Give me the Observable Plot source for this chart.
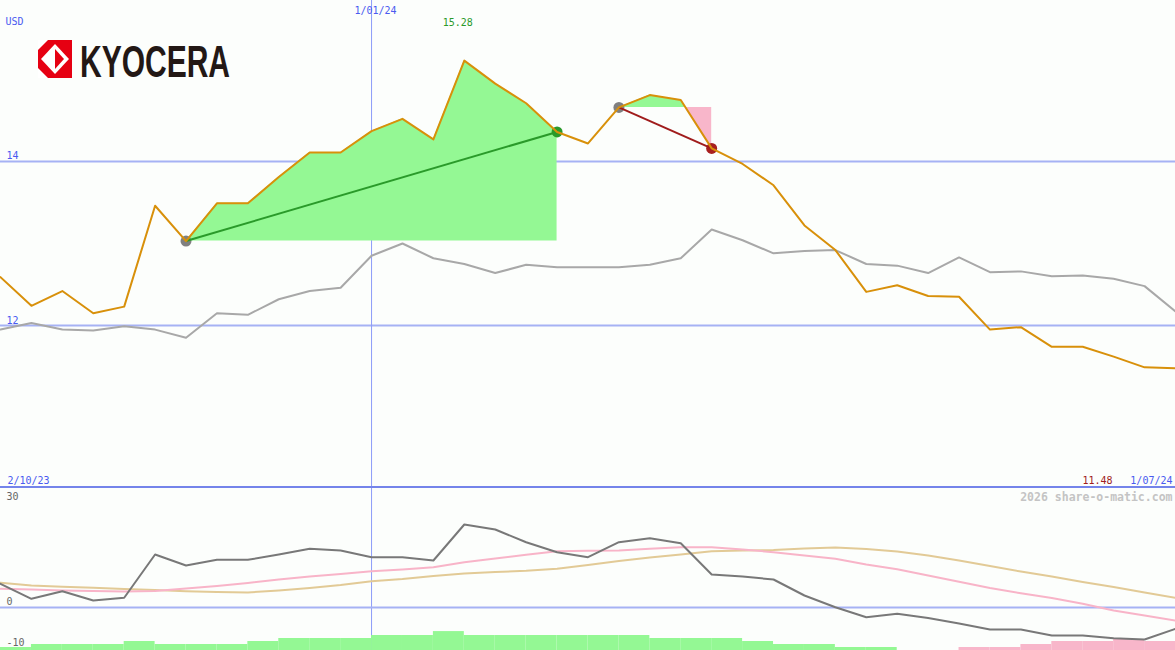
<!DOCTYPE html>
<html><head><meta charset="utf-8">
<script src="https://cdn.jsdelivr.net/npm/d3@7"></script>
<script src="https://cdn.jsdelivr.net/npm/@observablehq/plot@0.6"></script>
<style>
body{margin:0;background:#fcfefc;width:1175px;height:650px;overflow:hidden;font-family:"DejaVu Sans Mono",monospace}
#top{position:relative;height:486px;border-bottom:2px solid #7484ea}
#bottom{position:relative;height:162px}
#logo{position:absolute;left:36px;top:36px;z-index:2}
svg{display:block}
</style></head><body>
<div id="top"><div id="logo">
<svg width="340" height="50" viewBox="0 0 340 50">
  <rect x="2" y="4" width="34" height="38" fill="#e60012"/>
  <polygon points="19,8 33,23 19,38 5,23" fill="#ffffff"/>
  <polygon points="19,13 28,23 19,33" fill="#e60012"/>
  <polygon points="2,4 12,4 2,14" fill="#ffffff"/>
  <polygon points="2,42 12,42 2,32" fill="#ffffff"/>
  <text x="44" y="41" font-family="Liberation Sans, Arial, sans-serif" font-weight="bold" font-size="45" fill="#231815" textLength="150" lengthAdjust="spacingAndGlyphs">KYOCERA</text>
</svg></div></div>
<div id="bottom"></div>
<script>
// ---- data (weekly, 2/10/23 .. 1/07/24) ----
const price = [12.59,12.24,12.42,12.15,12.23,13.46,13.03,13.49,13.49,13.81,14.11,14.11,14.37,14.52,14.27,15.23,14.95,14.71,14.36,14.22,14.66,14.81,14.75,14.16,13.97,13.71,13.22,12.92,12.41,12.49,12.36,12.35,11.95,11.98,11.74,11.74,11.62,11.49,11.48];
const benchmark = [11.95,12.03,11.95,11.94,11.99,11.95,11.85,12.15,12.13,12.32,12.42,12.46,12.85,13.00,12.82,12.75,12.64,12.74,12.71,12.71,12.71,12.74,12.82,13.17,13.04,12.88,12.91,12.92,12.75,12.73,12.64,12.83,12.65,12.66,12.60,12.61,12.57,12.48,12.17];
const momentum = [6.64,2.44,4.57,1.96,2.72,14.85,11.76,13.36,13.36,14.85,16.44,15.97,14.09,14.09,13.17,23.25,21.85,18.29,15.49,14.09,18.29,19.41,18.01,9.24,8.68,7.84,3.36,0.08,-2.72,-1.76,-2.94,-4.48,-6.16,-6.16,-7.84,-7.84,-8.6,-8.96,-5.97];
const fastAvg = [5.24,5.04,4.76,4.62,4.48,4.62,5.32,6.02,6.86,7.84,8.68,9.38,10.17,10.64,11.29,12.69,13.73,14.76,15.77,15.88,15.97,16.44,16.89,16.89,16.25,15.49,14.57,13.64,12.04,10.73,8.99,7.20,5.46,3.98,2.66,1.04,-0.84,-2.24,-3.64];
const slowAvg = [6.92,6.16,5.80,5.52,5.18,4.90,4.57,4.34,4.20,4.76,5.46,6.30,7.37,7.98,8.82,9.52,9.94,10.28,10.84,11.90,13.03,14.01,14.85,15.77,15.97,16.11,16.53,16.81,16.39,15.69,14.57,13.17,11.62,10.08,8.68,7.14,5.74,4.20,2.72];
const histogram = [0.84,1.68,1.68,1.68,2.52,1.68,1.68,1.68,2.52,3.36,3.36,3.36,4.2,4.2,5.3,4.2,4.2,4.2,4.2,4.2,4.2,3.36,3.36,3.36,2.52,1.68,1.68,0.84,0.84,0,0,-0.84,-0.84,-1.68,-2.52,-2.52,-3.08,-2.52];
const trades = [{start:6, end:18, win:true}, {start:20, end:23, win:false}];
const yearMark = 12;           // index of 1/01/24
const priceTicks = [12, 14];
const momTicks = [30, 0, -10];
const startLabel = "2/10/23", endLabel = "1/07/24", yearLabel = "1/01/24";
const maxLabel = "15.28", lastLabel = "11.48", currency = "USD";
const credit = "2026 share-o-matic.com";

// ---- styling ----
const W = 1175;
const BLUE = "#4a5af0", GRID = "#a6b2f4", VLINE = "#8c9cf8";
const FONT = "DejaVu Sans Mono";
const series = (arr) => arr.map((v, i) => ({x: i, v}));

function tradeArea(t) {
  const base = price[t.start];
  const pts = [];
  for (let i = t.start; i <= t.end; i++) {
    if (i > t.start) {
      const a = price[i-1] - base, b = price[i] - base;
      if (a * b < 0) pts.push({x: i - 1 + a / (a - b), v: base});
    }
    pts.push({x: i, v: price[i]});
  }
  return pts.map(p => ({x: p.x, base, up: Math.max(p.v, base), down: Math.min(p.v, base)}));
}

const yTop = [10.0366, 15.9634];
const topMarks = [
  Plot.ruleY(priceTicks, {stroke: GRID, strokeWidth: 2}),
  Plot.ruleX([yearMark], {stroke: VLINE, strokeWidth: 1})
];
for (const t of trades) {
  const a = tradeArea(t);
  topMarks.push(Plot.areaY(a, {x: "x", y1: "base", y2: "up", fill: "#94f894"}));
  topMarks.push(Plot.areaY(a, {x: "x", y1: "base", y2: "down", fill: "#f8b6ca"}));
}
topMarks.push(
  Plot.line(series(benchmark), {x: "x", y: "v", stroke: "#a8a8a8", strokeWidth: 2}),
  Plot.dot(trades, {x: "start", y: d => price[d.start], r: 5.5, fill: "#808080"}),
  Plot.dot(trades, {x: "end", y: d => price[d.end], r: 5.5, fill: d => d.win ? "#2a9a2a" : "#a82020"}),
  Plot.link(trades, {x1: "start", y1: d => price[d.start], x2: "end", y2: d => price[d.end], stroke: d => d.win ? "#2a9a2a" : "#a01c1c", strokeWidth: 2}),
  Plot.line(series(price), {x: "x", y: "v", stroke: "#d8900a", strokeWidth: 2}),
  Plot.text(priceTicks, {y: d => d, text: d => String(d), frameAnchor: "left", textAnchor: "start", lineAnchor: "bottom", dx: 6, dy: -2, fill: BLUE, fontSize: 10}),
  Plot.text([currency], {frameAnchor: "top-left", textAnchor: "start", lineAnchor: "bottom", dx: 5, dy: 24, fill: BLUE, fontSize: 10}),
  Plot.text([yearLabel], {x: yearMark, frameAnchor: "top", textAnchor: "middle", lineAnchor: "bottom", dx: 4, dy: 13, fill: BLUE, fontSize: 10}),
  Plot.text([maxLabel], {x: price.indexOf(d3.max(price)), frameAnchor: "top", textAnchor: "middle", lineAnchor: "bottom", dx: -6.5, dy: 25, fill: "#2a9a2a", fontSize: 10}),
  Plot.text([startLabel], {frameAnchor: "bottom-left", textAnchor: "start", lineAnchor: "bottom", dx: 7, dy: -3, fill: BLUE, fontSize: 10}),
  Plot.text([endLabel], {frameAnchor: "bottom-right", textAnchor: "end", lineAnchor: "bottom", dx: -3, dy: -3, fill: BLUE, fontSize: 10}),
  Plot.text([lastLabel], {frameAnchor: "bottom-right", textAnchor: "end", lineAnchor: "bottom", dx: -63, dy: -3, fill: "#a01c1c", fontSize: 10})
);

const topPlot = Plot.plot({
  width: W, height: 486, margin: 0,
  x: {domain: [0, price.length - 1], axis: null},
  y: {domain: yTop, axis: null},
  style: {background: "transparent", fontFamily: FONT, overflow: "visible"},
  marks: topMarks
});
document.getElementById("top").prepend(topPlot);

const yLow = [-12.045, 33.333];
const bars = histogram.map((v, i) => ({x1: i, x2: i + 1, v}));
const tickOffsets = [0, -2, 2.6];
const lowMarks = [
  Plot.ruleX([yearMark], {stroke: VLINE, strokeWidth: 1}),
  Plot.ruleY([0], {stroke: GRID, strokeWidth: 2}),
  Plot.rectY(bars.filter(d => d.v !== 0), {x1: "x1", x2: "x2", y1: yLow[0], y2: d => yLow[0] + Math.abs(d.v), fill: d => d.v > 0 ? "#94f894" : "#f8b6ca"}),
  Plot.line(series(slowAvg), {x: "x", y: "v", stroke: "#e2ca96", strokeWidth: 2}),
  Plot.line(series(fastAvg), {x: "x", y: "v", stroke: "#f8b4c8", strokeWidth: 2}),
  Plot.line(series(momentum), {x: "x", y: "v", stroke: "#787878", strokeWidth: 2}),
  Plot.text([credit], {frameAnchor: "top-right", textAnchor: "end", lineAnchor: "bottom", dx: -3, dy: 12, fill: "#c4c4c4", fontSize: 11.5, fontWeight: "bold"})
];
momTicks.forEach((t, k) => {
  lowMarks.push(Plot.text([t], {y: d => d, text: d => String(d), frameAnchor: "left", textAnchor: "start", lineAnchor: "bottom", dx: 6, dy: tickOffsets[k], fill: "#666666", fontSize: 10}));
});
const lowPlot = Plot.plot({
  width: W, height: 162, margin: 0,
  x: {domain: [0, price.length - 1], axis: null},
  y: {domain: yLow, axis: null},
  style: {background: "transparent", fontFamily: FONT, overflow: "visible"},
  marks: lowMarks
});
document.getElementById("bottom").append(lowPlot);
</script>
</body></html>
